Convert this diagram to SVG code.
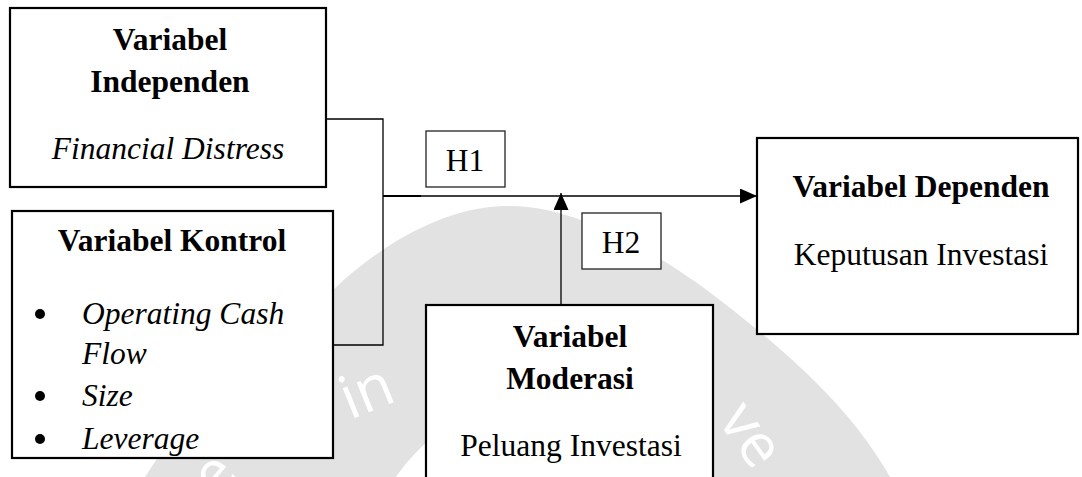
<svg xmlns="http://www.w3.org/2000/svg" width="1082" height="477" viewBox="0 0 1082 477">
<style>
.box{fill:#fff;stroke:#000;stroke-width:2.2}
.hbox{fill:#fff;stroke:#222;stroke-width:1.3}
.t{font-family:"Liberation Serif","Times New Roman",serif;font-size:31.5px;fill:#000}
.b{font-weight:bold}
.i{font-style:italic}
.m{text-anchor:middle}
.con{fill:none;stroke:#000;stroke-width:1.3}
.wm{font-family:"Open Sans","DejaVu Sans",sans-serif;font-size:60px;fill:#fff}
</style>
<defs>
<marker id="arr" markerUnits="userSpaceOnUse" markerWidth="18" markerHeight="15" refX="17" refY="7.5" orient="auto">
<path d="M0,0 L17,7.5 L0,15 z" fill="#000"/>
</marker>
<clipPath id="kclip"><rect x="13" y="211" width="319" height="246"/></clipPath>
</defs>
<g id="watermark">
<path d="M145,477 C205,385 275,318 333,290 C380,245 445,206 507,206 C575,205 650,250 700,285 C780,345 850,405 890,477 Z" fill="#e2e2e2"/>
<circle cx="552" cy="585" r="190" fill="#fff"/>
<text class="wm" x="350" y="420" transform="rotate(-22 350 420)">in</text>
<text class="wm" x="717" y="420" transform="rotate(55 717 420)">ve</text>
<text class="wm" x="218" y="500" transform="rotate(-50 218 500)">e</text>
</g>
<g id="connectors">
<polyline class="con" points="326,119 383,119 383,345 333,345"/>
<line x1="383" y1="196" x2="421" y2="196" stroke="#000" stroke-width="2"/>
<line class="con" x1="383" y1="196" x2="757" y2="196" marker-end="url(#arr)"/>
<line class="con" x1="561" y1="305" x2="561" y2="193" marker-end="url(#arr)"/>
</g>
<g id="independen">
<rect class="box" x="10" y="8" width="316" height="179"/>
<text class="t b m" x="170" y="50">Variabel</text>
<text class="t b m" x="170" y="92">Independen</text>
<text class="t i m" x="168" y="159">Financial Distress</text>
</g>
<g id="kontrol">
<rect class="box" x="12" y="211" width="321" height="247"/>
<text class="t b m" x="172" y="251">Variabel Kontrol</text>
<g clip-path="url(#kclip)">
<circle cx="40" cy="314" r="5"/>
<text class="t i" x="82" y="324">Operating Cash</text>
<text class="t i" x="82" y="364">Flow</text>
<circle cx="40" cy="396" r="5"/>
<text class="t i" x="82" y="406">Size</text>
<circle cx="40" cy="439" r="5"/>
<text class="t i" x="82" y="449">Leverage</text>
</g>
</g>
<g id="h1">
<rect class="hbox" x="426" y="131" width="79" height="56"/>
<text class="t m" x="465" y="171">H1</text>
</g>
<g id="h2">
<rect class="hbox" x="582" y="213" width="79" height="56"/>
<text class="t m" x="621" y="253">H2</text>
</g>
<g id="moderasi">
<rect class="box" x="426" y="305" width="287" height="180"/>
<text class="t b m" x="570" y="347">Variabel</text>
<text class="t b m" x="570" y="389">Moderasi</text>
<text class="t m" x="571" y="456">Peluang Investasi</text>
</g>
<g id="dependen">
<rect class="box" x="757" y="138" width="321" height="196"/>
<text class="t b m" x="921" y="197">Variabel Dependen</text>
<text class="t m" x="921" y="265">Keputusan Investasi</text>
</g>
</svg>
